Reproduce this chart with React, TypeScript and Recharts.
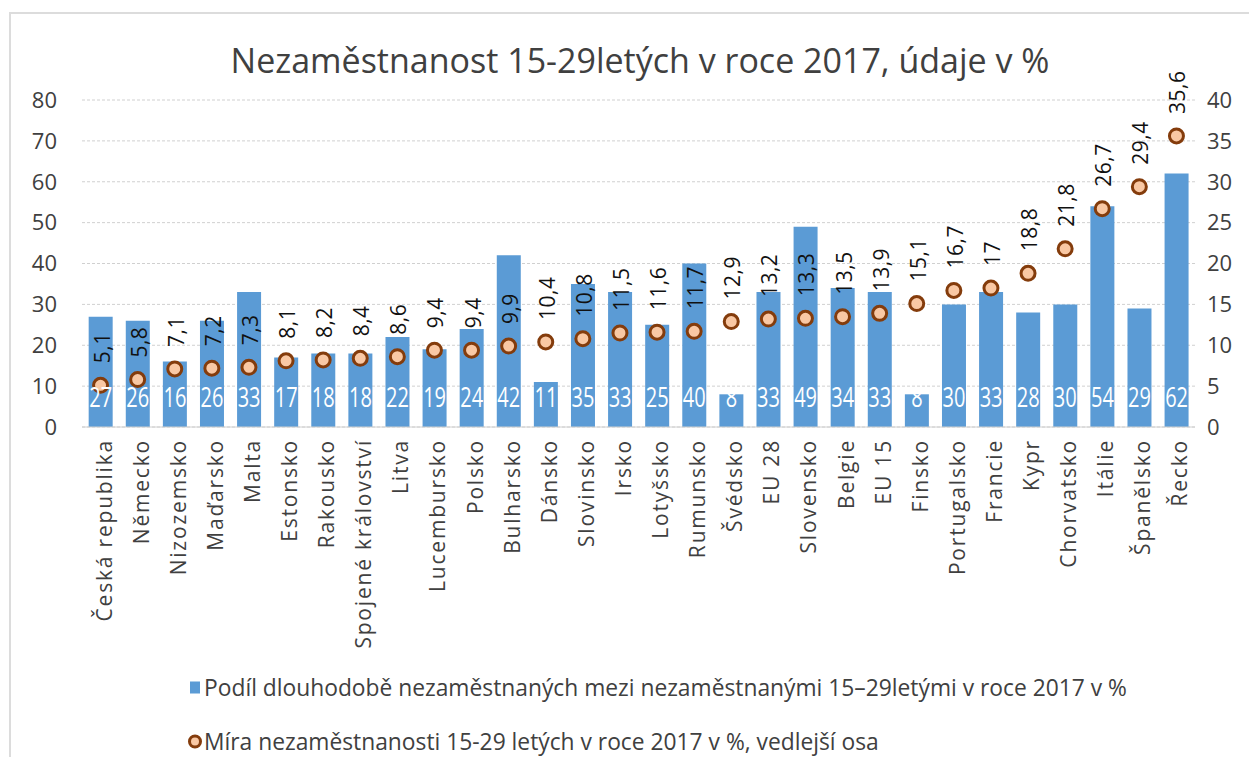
import React from 'react';
import { ComposedChart, Bar, Line, XAxis, YAxis, CartesianGrid, LabelList, Legend } from 'recharts';

const categories = [
  'Česká republika', 'Německo', 'Nizozemsko', 'Maďarsko', 'Malta', 'Estonsko', 'Rakousko',
  'Spojené království', 'Litva', 'Lucembursko', 'Polsko', 'Bulharsko', 'Dánsko', 'Slovinsko',
  'Irsko', 'Lotyšsko', 'Rumunsko', 'Švédsko', 'EU 28', 'Slovensko', 'Belgie', 'EU 15', 'Finsko',
  'Portugalsko', 'Francie', 'Kypr', 'Chorvatsko', 'Itálie', 'Španělsko', 'Řecko',
];
const longTermShare = [27, 26, 16, 26, 33, 17, 18, 18, 22, 19, 24, 42, 11, 35, 33, 25, 40, 8, 33, 49, 34, 33, 8, 30, 33, 28, 30, 54, 29, 62];
const unemploymentRate = [5.1, 5.8, 7.1, 7.2, 7.3, 8.1, 8.2, 8.4, 8.6, 9.4, 9.4, 9.9, 10.4, 10.8, 11.5, 11.6, 11.7, 12.9, 13.2, 13.3, 13.5, 13.9, 15.1, 16.7, 17, 18.8, 21.8, 26.7, 29.4, 35.6];
const leftTicks = [0, 10, 20, 30, 40, 50, 60, 70, 80];
const rightTicks = [0, 5, 10, 15, 20, 25, 30, 35, 40];

const titleText = 'Nezaměstnanost 15-29letých v roce 2017, údaje v %';
const legendBar = 'Podíl dlouhodobě nezaměstnaných mezi nezaměstnanými 15–29letými v roce 2017 v %';
const legendDot = 'Míra nezaměstnanosti 15-29 letých v roce 2017 v %, vedlejší osa';

const data = categories.map((name, i) => ({ name, share: longTermShare[i], rate: unemploymentRate[i] }));

const FONT = '"Open Sans", sans-serif';
const BAR = '#5b9bd5';
const DOT_FILL = '#f9c8a4';
const DOT_STROKE = '#843c0c';

const XTick = (props: any) => {
  const { x, y, payload } = props;
  const ty = y + 12;
  const tx = x + 3;
  return (
    <text
      x={tx}
      y={ty}
      transform={`rotate(-90, ${tx}, ${ty})`}
      textAnchor="end"
      dominantBaseline="central"
      fontSize={21}
      letterSpacing={1.8}
      fill="#404040"
      fontFamily={FONT}
    >
      {payload.value}
    </text>
  );
};

const BarLabel = (props: any) => {
  const { x, y, width, height, value } = props;
  const cx = x + width / 2;
  const cy = y + height - 31;
  return (
    <text
      transform={`translate(${cx}, ${cy}) scale(1, 1.4)`}
      textAnchor="middle"
      dominantBaseline="central"
      fontSize={20}
      fill="#ffffff"
      fontFamily={FONT}
    >
      {value}
    </text>
  );
};

const DotLabel = (props: any) => {
  const { x, y, value } = props;
  const ty = y - 22;
  const tx = x + 1;
  return (
    <text
      x={tx}
      y={ty}
      transform={`rotate(-90, ${tx}, ${ty})`}
      textAnchor="start"
      dominantBaseline="central"
      fontSize={21}
      letterSpacing={0.5}
      fill="#111111"
      fontFamily={FONT}
    >
      {String(value).replace('.', ',')}
    </text>
  );
};

const LegendContent = () => (
  <div style={{ position: 'relative', height: 92, width: '100%', fontFamily: FONT, color: '#404040', fontSize: 22.8 }}>
    <div style={{ position: 'absolute', left: 182, top: 22, transform: 'translateY(-50%)', display: 'flex', alignItems: 'center', whiteSpace: 'nowrap' }}>
      <span style={{ display: 'inline-block', width: 10, height: 12, background: BAR, marginRight: 4 }} />
      <span>{legendBar}</span>
    </div>
    <div style={{ position: 'absolute', left: 180, top: 76, transform: 'translateY(-50%)', display: 'flex', alignItems: 'center', whiteSpace: 'nowrap' }}>
      <span style={{ display: 'inline-block', width: 8, height: 8, borderRadius: '50%', background: DOT_FILL, border: `3px solid ${DOT_STROKE}`, marginRight: 2 }} />
      <span>{legendDot}</span>
    </div>
  </div>
);

export default function App() {
  return (
    <div style={{ position: 'relative', width: 1241, height: 749, fontFamily: FONT, background: '#fff' }}>
      <div style={{ position: 'absolute', left: 1, top: 4, width: 1248, height: 2, background: '#dcdcdc' }} />
      <div style={{ position: 'absolute', left: 1, top: 4, width: 2, height: 753, background: '#dcdcdc' }} />
      <div
        style={{
          position: 'absolute',
          left: 632,
          top: 52,
          transform: 'translate(-50%, -50%)',
          whiteSpace: 'nowrap',
          fontSize: 34,
          color: '#404040',
        }}
      >
        {titleText}
      </div>
      <ComposedChart
        width={1241}
        height={749}
        data={data}
        margin={{ top: 92, right: 0, left: 0, bottom: 0 }}
        barCategoryGap="18%"
      >
        <CartesianGrid yAxisId="left" vertical={false} stroke="#d0d0d0" strokeDasharray="3 2" />
        <XAxis
          dataKey="name"
          interval={0}
          height={238}
          tickLine={false}
          tickSize={0}
          tickMargin={0}
          axisLine={{ stroke: '#d0d0d0' }}
          tick={<XTick />}
        />
        <YAxis
          yAxisId="left"
          orientation="left"
          width={74}
          domain={[0, 80]}
          ticks={leftTicks}
          tickLine={false}
          axisLine={false}
          tickMargin={19}
          tick={{ fill: '#404040', fontSize: 22, fontFamily: FONT }}
        />
        <YAxis
          yAxisId="right"
          orientation="right"
          width={54}
          domain={[0, 40]}
          ticks={rightTicks}
          tickLine={false}
          axisLine={false}
          tickMargin={6}
          tick={{ fill: '#404040', fontSize: 22, fontFamily: FONT }}
        />
        <Bar yAxisId="left" dataKey="share" fill={BAR} isAnimationActive={false} name={legendBar}>
          <LabelList dataKey="share" content={<BarLabel />} />
        </Bar>
        <Line
          yAxisId="right"
          dataKey="rate"
          stroke="none"
          strokeWidth={0}
          isAnimationActive={false}
          activeDot={false}
          dot={{ r: 7, fill: DOT_FILL, stroke: DOT_STROKE, strokeWidth: 3 }}
          name={legendDot}
        >
          <LabelList dataKey="rate" content={<DotLabel />} />
        </Line>
        <Legend verticalAlign="bottom" height={92} content={<LegendContent />} />
      </ComposedChart>
    </div>
  );
}
